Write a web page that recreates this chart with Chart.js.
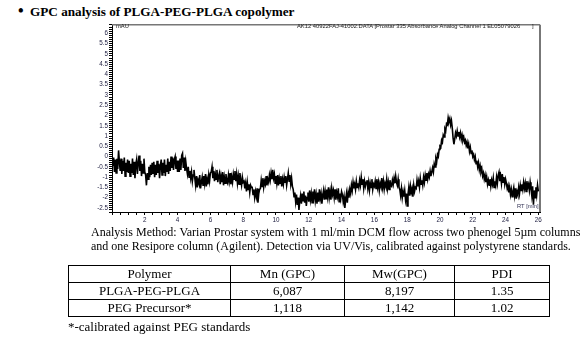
<!DOCTYPE html>
<html>
<head>
<meta charset="utf-8">
<script src="https://cdn.jsdelivr.net/npm/chart.js@4.4.1/dist/chart.umd.min.js"></script>
<style>
  body { margin: 0; background: #fff; width: 587px; height: 339px; position: relative; overflow: hidden; font-family: "Liberation Serif", "Times New Roman", serif; color: #000; }
  .abs { position: absolute; white-space: nowrap; }
  #bullet { left: 18px; top: 2px; font-size: 16px; font-weight: bold; }
  #title { left: 30px; top: 4px; font-size: 13.2px; font-weight: bold; }
  #chartBox { position: absolute; left: 88px; top: 20px; width: 456px; height: 206px; }
  .tiny { font-family: "Liberation Sans", Arial, sans-serif; font-size: 5.8px; color: #222; }
  #caption { left: 91px; top: 225px; font-size: 12px; line-height: 14px; }
  table { position: absolute; left: 68px; top: 265px; border-collapse: collapse; font-size: 13px; }
  td { border: 1px solid #000; text-align: center; height: 16px; padding: 0; line-height: 16px; }
  #note { left: 68px; top: 319px; font-size: 13px; }
</style>
</head>
<body>
<div id="bullet" class="abs">&bull;</div>
<div id="title" class="abs">GPC analysis of PLGA-PEG-PLGA copolymer</div>
<div id="chartBox"><canvas id="gpc"></canvas></div>
<div class="abs tiny" style="left:116px; top:23px;">mAU</div>
<div class="abs tiny" style="left:297px; top:23px;">AK12 40922FAJ-41002.DATA [Prostar 335 Absorbance Analog Channel 1 EL05079026</div>
<div class="abs tiny" style="left:532px; top:23px;">]</div>
<div class="abs tiny" style="left:517px; top:203px; color:#335;">RT [min]</div>
<div id="caption" class="abs">Analysis Method: Varian Prostar system with 1 ml/min DCM flow across two phenogel 5µm columns<br>and one Resipore column (Agilent). Detection via UV/Vis, calibrated against polystyrene standards.</div>
<table>
  <tr><td style="width:161px">Polymer</td><td style="width:113px">Mn (GPC)</td><td style="width:109px">Mw(GPC)</td><td style="width:94px">PDI</td></tr>
  <tr><td>PLGA-PEG-PLGA</td><td>6,087</td><td>8,197</td><td>1.35</td></tr>
  <tr><td>PEG Precursor*</td><td>1,118</td><td>1,142</td><td>1.02</td></tr>
</table>
<div id="note" class="abs">*-calibrated against PEG standards</div>

<script>
// retention time grid of the trace (min)
var rtStart = 0.05;
var rtStep = 0.05;

// absorbance (mAU), ten values per half minute
var signal = [
  -0.45, -0.05, -0.75, -0.15, -0.8, -0.1, -0.6, 0.3, -0.25, -0.7,
  -0.1, -0.85, -0.2, -0.7, -0.05, -0.95, -0.3, -0.75, -0.15, -0.8,
  -0.2, -0.95, -0.35, -0.8, -0.1, -0.9, -0.25, -1.05, -0.4, -0.15,
  -0.85, -0.3, 0.05, -0.7, -0.2, -0.95, -0.35, -0.8, -0.1, -0.75,
  -0.9, -1.4, -0.8, -1.1, -0.5, -1.0, -0.4, -0.9, -0.3, -0.85,
  -0.25, -1.0, -0.4, -0.9, -0.2, -0.8, -0.35, -1.05, -0.45, -0.15,
  -0.9, -0.3, -0.8, -0.15, -0.95, -0.4, -0.75, -0.1, -0.85, -0.25,
  -0.7, 0.0, -0.55, -0.05, -0.65, -0.15, 0.0, -0.6, -0.2, -0.75,
  -0.2, -0.75, -0.1, -0.65, 0.05, 0.15, -0.55, -0.05, -0.7, -0.25,
  -0.6, -0.85, -0.5, -1.0, -0.7, -1.05, -0.75, -1.2, -0.9, -0.65,
  -1.05, -1.4, -0.95, -1.5, -1.15, -1.3, -0.9, -1.55, -1.25, -1.0,
  -1.4, -0.95, -1.3, -0.85, -1.45, -1.1, -1.35, -0.9, -1.2, -0.8,
  -0.75, -0.5, -1.05, -0.7, -1.2, -0.85, -1.1, -0.65, -1.25, -0.95,
  -0.8, -1.35, -0.95, -1.25, -0.75, -1.4, -1.0, -1.3, -0.85, -1.2,
  -1.3, -0.9, -1.2, -0.8, -1.35, -1.0, -1.25, -0.85, -1.1, -0.7,
  -1.2, -0.85, -1.3, -0.95, -1.35, -0.8, -1.15, -1.4, -1.0, -1.25,
  -1.2, -1.55, -1.3, -1.7, -1.25, -1.6, -1.35, -1.75, -1.4, -1.5,
  -1.5, -1.85, -1.6, -2.0, -1.7, -1.95, -1.55, -2.25, -1.8, -1.6,
  -1.55, -1.15, -1.45, -1.05, -1.5, -1.2, -1.35, -0.95, -1.4, -1.1,
  -1.25, -0.9, -1.15, -0.8, -1.1, -0.65, -1.05, -0.85, -1.3, -0.95,
  -1.3, -0.9, -1.4, -1.05, -1.3, -0.95, -1.45, -1.1, -1.35, -1.0,
  -1.25, -0.95, -1.4, -1.1, -0.8, -1.2, -0.9, -1.35, -1.05, -1.45,
  -1.6, -1.95, -1.75, -2.2, -1.85, -2.35, -2.0, -2.6, -2.15, -1.9,
  -2.3, -1.8, -2.15, -1.7, -2.25, -1.9, -2.4, -2.0, -1.75, -2.2,
  -1.65, -2.1, -1.8, -2.25, -1.7, -2.0, -1.6, -2.15, -1.85, -2.3,
  -1.75, -2.2, -1.6, -2.05, -1.8, -2.3, -1.9, -1.65, -2.1, -1.7,
  -2.05, -1.6, -1.95, -1.5, -2.0, -1.7, -2.1, -1.55, -1.85, -1.65,
  -2.0, -1.6, -2.1, -1.75, -1.95, -1.55, -2.2, -1.8, -2.05, -1.7,
  -1.85, -2.2, -1.95, -2.5, -2.1, -1.8, -2.25, -1.75, -2.0, -1.6,
  -1.8, -1.4, -1.65, -1.25, -1.55, -1.35, -1.6, -1.2, -1.5, -1.3,
  -1.5, -1.15, -1.4, -1.0, -1.35, -1.1, -1.55, -1.2, -1.45, -1.25,
  -1.15, -1.55, -1.25, -1.65, -1.3, -1.5, -1.1, -1.6, -1.35, -1.45,
  -1.2, -1.55, -1.1, -1.5, -1.25, -1.65, -1.3, -1.45, -1.05, -1.5,
  -1.2, -1.6, -1.3, -1.45, -1.1, -1.55, -1.25, -1.6, -1.15, -1.4,
  -1.45, -1.15, -1.35, -1.05, -1.3, -0.95, -1.25, -1.4, -1.1, -1.5,
  -1.6, -1.9, -1.55, -2.0, -1.7, -1.95, -1.65, -2.1, -1.8, -2.4,
  -1.85, -1.5, -1.9, -1.45, -1.75, -1.55, -1.95, -1.4, -1.7, -1.5,
  -1.55, -1.15, -1.45, -1.2, -1.5, -1.05, -1.35, -1.15, -1.4, -1.0,
  -1.25, -0.9, -1.15, -0.8, -1.1, -0.85, -1.0, -0.7, -0.95, -0.75,
  -0.55, -0.75, -0.35, -0.5, -0.1, -0.25, 0.1, 0.0, 0.35, 0.5,
  0.45, 0.8, 0.7, 1.05, 0.95, 1.35, 1.25, 1.6, 1.55, 1.9,
  1.7, 1.85, 1.55, 1.75, 1.4, 0.9, 0.6, 0.85, 1.15, 1.0,
  1.25, 1.0, 1.2, 0.95, 1.15, 0.85, 1.05, 0.8, 0.95, 0.7,
  0.8, 0.55, 0.7, 0.4, 0.6, 0.25, 0.45, 0.15, 0.3, 0.0,
  0.1, -0.15, 0.0, -0.35, -0.2, -0.5, -0.3, -0.65, -0.45, -0.75,
  -0.6, -0.95, -0.8, -1.1, -0.9, -1.25, -1.0, -1.35, -1.15, -1.4,
  -1.1, -1.45, -1.15, -1.35, -1.05, -1.5, -1.2, -1.4, -1.0, -1.3,
  -0.9, -0.75, -1.2, -0.95, -1.3, -0.85, -1.25, -1.0, -1.35, -1.1,
  -1.3, -1.55, -1.4, -1.75, -1.5, -1.85, -1.6, -1.95, -1.7, -1.5,
  -1.9, -1.55, -2.05, -1.7, -1.85, -1.5, -1.8, -1.4, -1.65, -1.35,
  -1.6, -1.25, -1.55, -1.3, -1.7, -1.2, -1.5, -1.35, -1.65, -1.25,
  -1.55, -1.9, -1.45, -2.35, -1.65, -2.0, -1.5, -1.85, -1.4, -1.7
];

var xMin = 0, xMax = 26.1;
var yMin = -2.7, yMax = 6.42;
var xTickStep = 0.5, xLabelEvery = 2;

var points = signal.map(function(v, i) {
  return { x: +(rtStart + i * rtStep).toFixed(2), y: v };
});

// grey top/right frame like the instrument printout
var frame = {
  id: 'frame',
  afterDraw: function(chart) {
    var a = chart.chartArea, ctx = chart.ctx;
    ctx.save();
    ctx.strokeStyle = '#777';
    ctx.lineWidth = 1.5;
    ctx.beginPath();
    ctx.moveTo(a.left, a.top);
    ctx.lineTo(a.right, a.top);
    ctx.stroke();
    ctx.lineWidth = 2;
    ctx.beginPath();
    ctx.moveTo(a.right, a.top);
    ctx.lineTo(a.right, a.bottom);
    ctx.stroke();
    ctx.restore();
  }
};

var tickFont = { family: 'Liberation Sans', size: 6.3 };

new Chart(document.getElementById('gpc'), {
  type: 'line',
  data: {
    datasets: [{
      data: points,
      borderColor: '#000',
      borderWidth: 1.6,
      pointRadius: 0,
      tension: 0,
      fill: false
    }]
  },
  options: {
    responsive: true,
    maintainAspectRatio: false,
    animation: false,
    layout: { padding: { top: 3, right: 4, left: 0, bottom: 0 } },
    plugins: { legend: { display: false }, tooltip: { enabled: false } },
    scales: {
      x: {
        type: 'linear',
        min: xMin,
        max: xMax,
        afterFit: function(s) { s.height = 14; },
        afterBuildTicks: function(s) {
          var t = [];
          for (var v = xMin; v <= 26 + 1e-9; v += xTickStep) t.push({ value: +v.toFixed(2) });
          s.ticks = t;
        },
        border: { display: true, color: '#000', width: 1 },
        grid: { display: true, drawOnChartArea: false, drawTicks: true, tickLength: 3, color: '#000' },
        ticks: {
          autoSkip: false,
          maxRotation: 0,
          padding: 1,
          color: '#224',
          font: tickFont,
          callback: function(v) {
            if (v > 0 && Math.abs(v % xLabelEvery) < 1e-6) return String(v);
            return '';
          }
        }
      },
      y: {
        min: yMin,
        max: yMax,
        afterFit: function(s) { s.width = 24; },
        border: { display: true, color: '#000', width: 1 },
        grid: { display: true, drawOnChartArea: false, drawTicks: true, tickLength: 3, color: '#000' },
        ticks: {
          stepSize: 0.1,
          autoSkip: false,
          padding: 1,
          color: '#224',
          font: tickFont,
          callback: function(v) {
            var h = v * 2;
            if (Math.abs(h - Math.round(h)) < 1e-6) return String(+v.toFixed(1));
            return '';
          }
        }
      }
    }
  },
  plugins: [frame]
});
</script>
</body>
</html>
